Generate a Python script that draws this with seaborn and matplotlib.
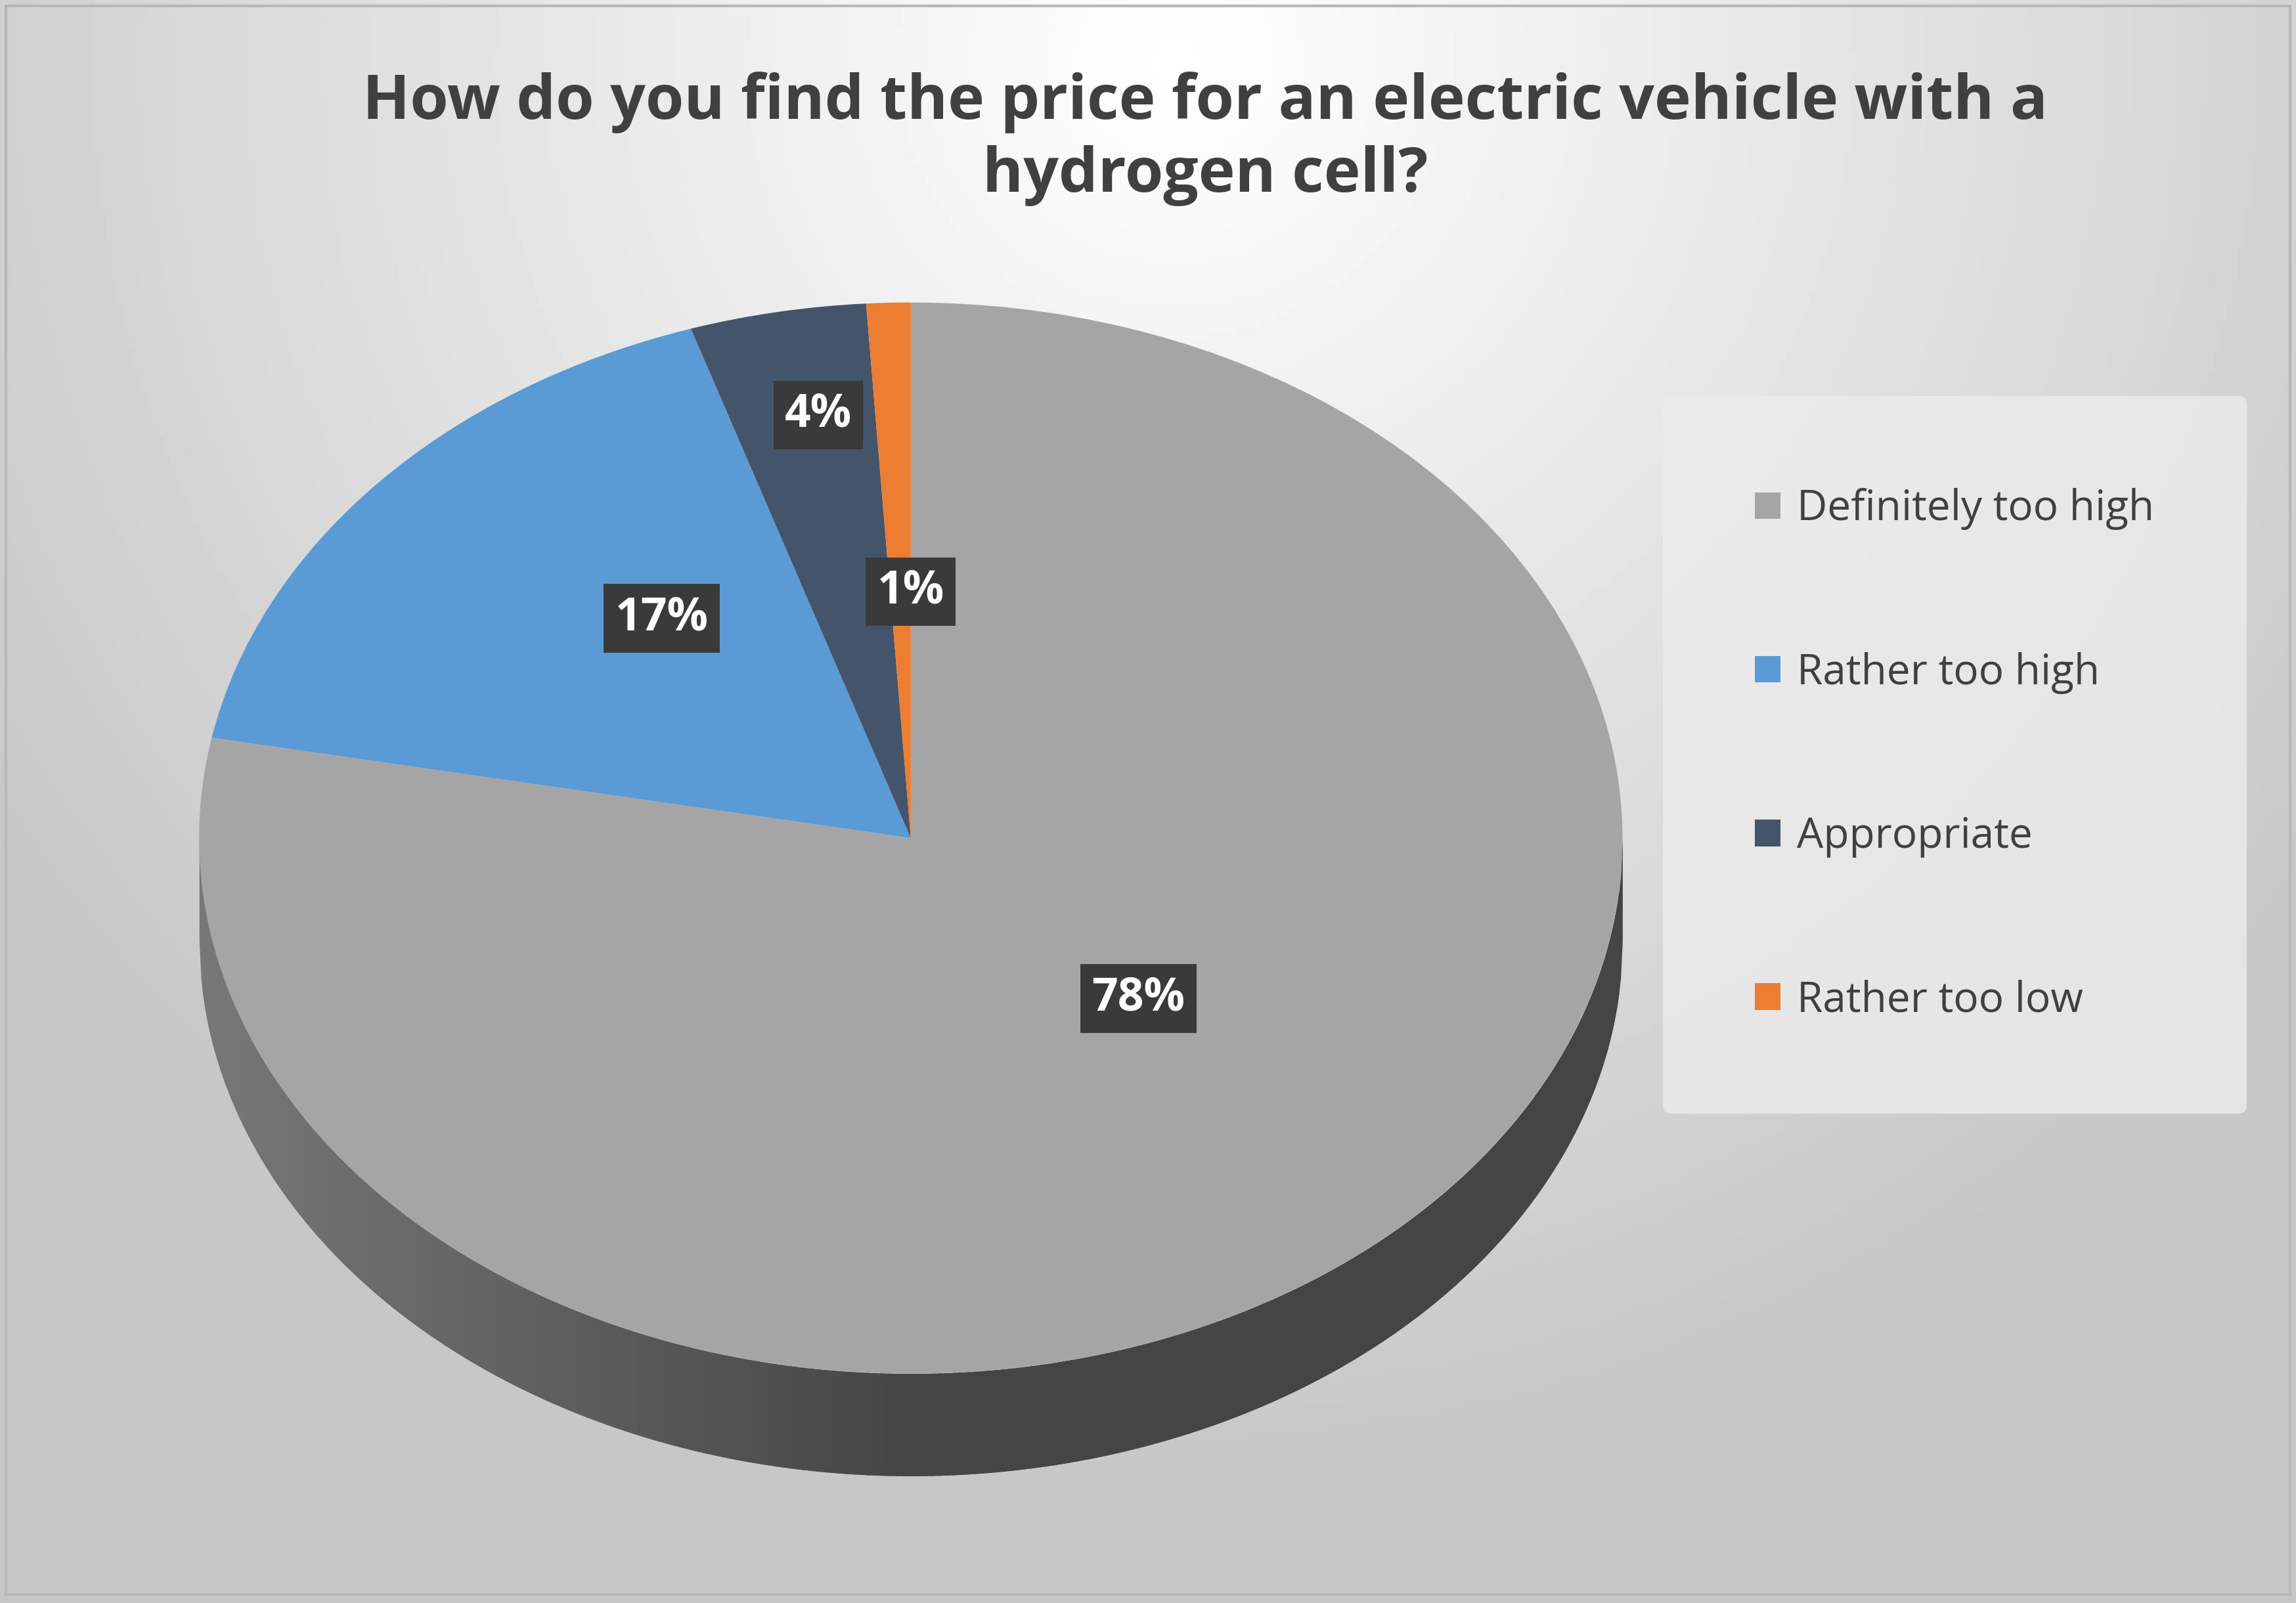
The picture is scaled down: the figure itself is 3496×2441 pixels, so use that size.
import numpy as np
import matplotlib
matplotlib.use("Agg")
import matplotlib.pyplot as plt
import seaborn as sns
from matplotlib.patches import Rectangle

sns.set_theme(style="white")
plt.rcParams['font.family'] = ['Open Sans', 'DejaVu Sans']

categories = ["Definitely too high", "Rather too high", "Appropriate", "Rather too low"]
values = [78, 17, 4, 1]
colors = ["#a5a5a5", "#5b9bd5", "#44546a", "#ed7d31"]
title = "How do you find the price for an electric vehicle with a\nhydrogen cell?"

W, H = 1568, 1097
fig = plt.figure(figsize=(34.96, 24.41), dpi=100)

# background gradient
bg = fig.add_axes([0, 0, 1, 1])
yy, xx = np.mgrid[0:H:4, 0:W:4]
r = np.sqrt(((xx - 800) / 1100) ** 2 + ((yy - 40) / 1100) ** 2)
g = np.clip(1.0 - 0.25 * r, 0.78, 1.0)
bg.imshow(g, cmap="gray", vmin=0, vmax=1, extent=[0, W, H, 0], aspect="auto")
bg.add_patch(Rectangle((4, 4), W - 8, H - 10, fill=False, ec="#b8b8b8", lw=3))
bg.set_xlim(0, W); bg.set_ylim(H, 0); bg.axis("off")

cx, rx, top, bot, depth = 622, 486, 207, 940, 70
ry = (bot - top) / 2
ax = fig.add_axes([(cx - rx) / W, 1 - bot / H, 2 * rx / W, 2 * ry / H])
ax.set_xlim(-1, 1); ax.set_ylim(-1, 1); ax.set_aspect("auto"); ax.axis("off")

# side of the 3D pie (smooth shading)
d = depth / ry
x = np.linspace(-1, 1, 800)
ylow = -np.sqrt(1 - x ** 2)
n = 200
for i in range(n):
    x0, x1 = -1 + 2 * i / n, -1 + 2 * (i + 1) / n
    m = (x >= x0 - 0.006) & (x <= x1 + 0.006)
    t = (x0 + 1) / 1.0
    shade = max(0.27, 0.47 - 0.2 * t)
    ax.fill_between(x[m], ylow[m], ylow[m] - d, color=str(shade), lw=0, clip_on=False)

wedges, texts, autotexts = ax.pie(
    values, colors=colors, startangle=90, counterclock=False, radius=1,
    autopct="%d%%", pctdistance=0.55,
    wedgeprops=dict(linewidth=0),
    textprops=dict(color="white", fontsize=50, fontweight="bold"))
ax.set_xlim(-1, 1); ax.set_ylim(-1, 1); ax.set_aspect("auto")
for t in autotexts:
    t.set_bbox(dict(boxstyle="square,pad=0.25", fc="#3a3a3a", ec="none"))
autotexts[0].set_position((0.32, -0.30))
autotexts[1].set_position((-0.35, 0.41))
autotexts[2].set_position((-0.13, 0.79))
autotexts[3].set_position((0.0, 0.46))

fig.text(0.525, 1 - 95 / H, title, ha="center", va="center", fontsize=68,
         fontweight="bold", color="#404040", linespacing=1.25)

leg = fig.legend(wedges, categories, loc="center",
                 bbox_to_anchor=((1128 + 1542) / 2 / W, 1 - (285 + 748) / 2 / H),
                 fontsize=46, labelspacing=2.9, frameon=True, borderpad=2.2,
                 handlelength=0.6, handleheight=0.6, handletextpad=0.4,
                 borderaxespad=0)
leg.get_frame().set_facecolor("#ececec")
leg.get_frame().set_edgecolor("none")
leg.get_frame().set_alpha(0.8)
for t in leg.get_texts():
    t.set_color("#404040")

fig.savefig("out.png", dpi=100)
